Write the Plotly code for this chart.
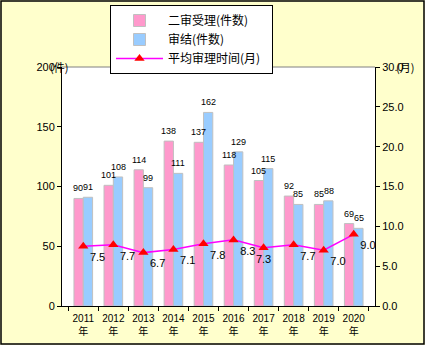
import plotly.graph_objects as go

years = ["2011", "2012", "2013", "2014", "2015", "2016", "2017", "2018", "2019", "2020"]
accepted = [90, 101, 114, 138, 137, 118, 105, 92, 85, 69]
concluded = [91, 108, 99, 111, 162, 129, 115, 85, 88, 65]
months = [7.5, 7.7, 6.7, 7.1, 7.8, 8.3, 7.3, 7.7, 7.0, 9.0]
month_text_pos = ["bottom right"] * 6 + ["bottom center"] + ["bottom right"] * 3

cats = [y + "<br>年" for y in years]
FONT = "Noto Sans CJK SC"
NUMF = "Liberation Sans, Arial, Noto Sans CJK SC, sans-serif"
PAD = "\u00a0" * 7

L, R, T, B = 62, 50, 67, 39
W, H = 425, 345
pw, ph = W - L - R, H - T - B
BARGAP = 0.38
half = pw / len(years) * (1 - BARGAP) / 4  # centre offset of each bar in a group

fig = go.Figure()
fig.add_trace(go.Bar(
    x=cats, y=accepted, name="二审受理(件数)" + PAD,
    marker=dict(color="#FF99CC", line=dict(color="#C0C0C0", width=1)),
))
fig.add_trace(go.Bar(
    x=cats, y=concluded, name="审结(件数)",
    marker=dict(color="#99CCFF", line=dict(color="#C0C0C0", width=1)),
))
fig.add_trace(go.Scatter(
    x=cats, y=months, name="平均审理时间(月)", yaxis="y2",
    mode="lines+markers+text",
    line=dict(color="#FF00FF", width=1.5),
    marker=dict(symbol="triangle-up", color="#FF0000", size=9),
    text=[f"{v:.1f}" for v in months], textposition=month_text_pos,
    textfont=dict(size=11, color="black", family=NUMF), cliponaxis=False,
))

annotations = []
for c, a, b in zip(cats, accepted, concluded):
    annotations.append(dict(x=c, y=a, xref="x", yref="y", text=str(a), showarrow=False,
                            xanchor="center", yanchor="bottom", xshift=-half, yshift=3,
                            font=dict(size=9, family=NUMF, color="black")))
    annotations.append(dict(x=c, y=b, xref="x", yref="y", text=str(b), showarrow=False,
                            xanchor="center", yanchor="bottom", xshift=half, yshift=3,
                            font=dict(size=9, family=NUMF, color="black")))
annotations += [
    dict(text="(件)", xref="paper", yref="paper", x=(48 - L) / pw, y=1,
         xanchor="left", yanchor="middle", showarrow=False, font=dict(size=11)),
    dict(text="(月)", xref="paper", yref="paper", x=(394 - L) / pw, y=1,
         xanchor="left", yanchor="middle", showarrow=False, font=dict(size=11)),
]

fig.update_layout(
    width=W, height=H,
    margin=dict(l=L, r=R, t=T, b=B, autoexpand=False),
    paper_bgcolor="#FFFFCC", plot_bgcolor="white",
    font=dict(family=FONT, size=10, color="black"),
    barmode="group", bargap=BARGAP, bargroupgap=0,
    showlegend=True,
    legend=dict(
        x=(110 - L) / pw, y=(306 - 5) / ph, xanchor="left", yanchor="top",
        bgcolor="white", bordercolor="black", borderwidth=1,
        font=dict(size=12, family=FONT), tracegroupgap=0,
        itemwidth=47,
    ),
    xaxis=dict(
        type="category", showline=True, linecolor="black", linewidth=1,
        ticks="outside", tickson="boundaries", ticklen=4, tickcolor="black",
        tickfont=dict(size=10, family=NUMF), tickangle=0, automargin=False,
        mirror=False, ticklabelstandoff=3,
    ),
    yaxis=dict(
        range=[0, 200], tickvals=[0, 50, 100, 150, 200],
        ticktext=["0", "50", "100", "150", "200"],
        showline=True, linecolor="black", ticks="outside", ticklen=4,
        tickcolor="black", showgrid=False, zeroline=False,
        tickfont=dict(size=11, family=NUMF), automargin=False,
    ),
    yaxis2=dict(
        overlaying="y", side="right", range=[0, 30],
        tickvals=[0, 5, 10, 15, 20, 25, 30],
        ticktext=["0.0", "5.0", "10.0", "15.0", "20.0", "25.0", "30.0"],
        showline=True, linecolor="black", ticks="outside", ticklen=4,
        tickcolor="black", showgrid=False, zeroline=False,
        tickfont=dict(size=11, family=NUMF), automargin=False,
    ),
    shapes=[
        dict(type="line", xref="paper", yref="paper", x0=0, x1=1, y0=1, y1=1,
             line=dict(color="#808080", width=1)),
        dict(type="rect", xref="paper", yref="paper",
             x0=(1 - L) / pw, x1=(W - 1 - L) / pw,
             y0=(306 - (H - 1)) / ph, y1=(306 - 1) / ph,
             line=dict(color="black", width=1.5)),
    ],
    annotations=annotations,
)

fig.write_html("out.html")
